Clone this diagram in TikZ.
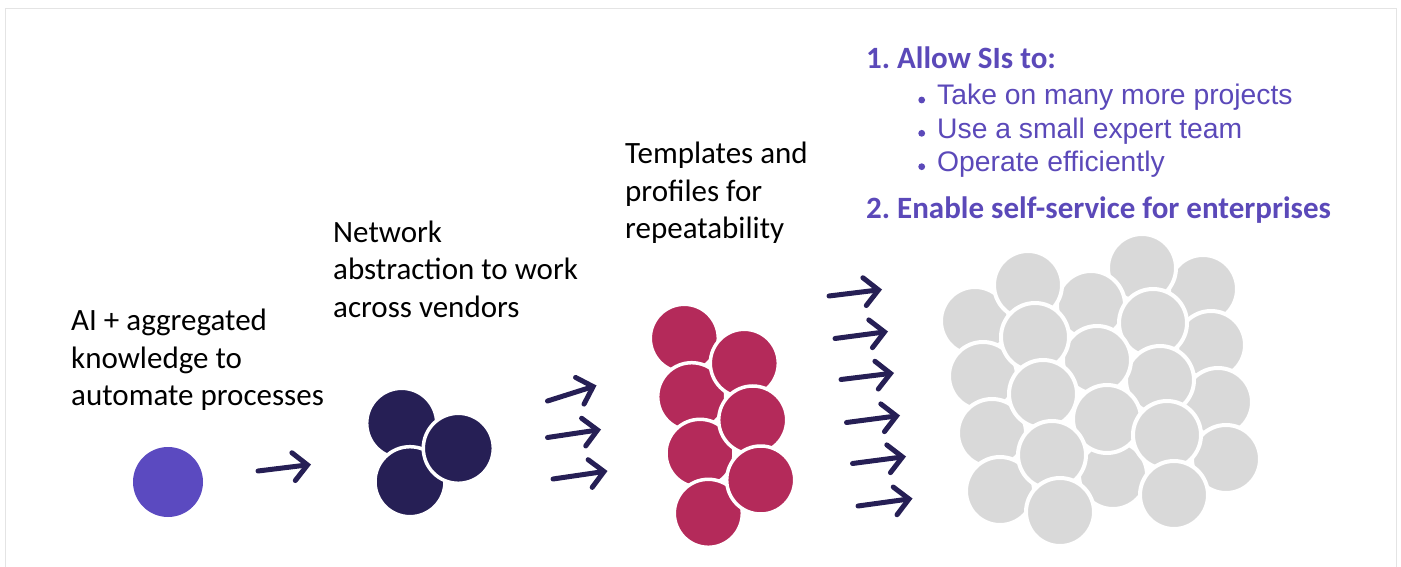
\documentclass[tikz,border=0pt]{standalone}
\usepackage{fontspec}
\setmainfont{Carlito}
\newfontfamily\bulletfont{Liberation Sans}
\usetikzlibrary{arrows.meta}
\frenchspacing

\definecolor{inkpurple}{HTML}{5B49B9}
\definecolor{dotpurple}{HTML}{5B4AC0}
\definecolor{navy}{HTML}{261F55}
\definecolor{berry}{HTML}{B42A5A}
\definecolor{ash}{HTML}{D9D9D9}
\definecolor{framegray}{HTML}{E4E4E4}

\begin{document}
\begin{tikzpicture}[x=1pt,y=-1pt,
  caption/.style={anchor=base west, inner sep=0pt, align=left,
    font=\fontsize{31}{37.3}\selectfont, text=black},
  heading/.style={anchor=base west, inner sep=0pt,
    font=\fontsize{31}{36}\selectfont\bfseries, text=inkpurple},
  bulletline/.style={anchor=base west, inner sep=0pt,
    font=\bulletfont\fontsize{28.3}{33}\selectfont, text=inkpurple},
  ball/.style={circle, inner sep=0pt, draw=white, minimum size=68pt, line width=3.5pt},
  greyball/.style={ball, fill=ash, minimum size=68pt, line width=4pt},
  redball/.style={ball, fill=berry, minimum size=68pt},
  navyball/.style={ball, fill=navy, minimum size=70pt},
  flow/.style={draw=navy, line width=5pt, line cap=round,
    -{Straight Barb[length=14pt,width=28pt,line cap=round,line join=miter]}},
]
\useasboundingbox (0,0) rectangle (1401,567);

% light frame around the slide area
\draw[framegray, line width=1.5pt] (5.5,567) -- (5.5,8.5) -- (1396.5,8.5) -- (1396.5,567);

% captions (anchored at the baseline of their last line)
\node[caption] (cap1) at (71,405.5) {AI + aggregated\\knowledge to\\automate processes};
\node[caption] (cap2) at (333,317) {Network\\abstraction to work\\across vendors};
\node[caption] (cap3) at (625,238.5) {Templates and\\profiles for\\repeatability};

% goals
\node[heading] (goal1) at (866,68.5) {1. Allow SIs to:};
\node[bulletline] (item1) at (937,105) {Take on many more projects};
\node[bulletline] (item2) at (937,138.3) {Use a small expert team};
\node[bulletline] (item3) at (937,171.7) {Operate efficiently};
\node[heading] (goal2) at (866,218.5) {2. Enable self-service for enterprises};
\foreach \yy in {100,133.3,166.7}
  \fill[inkpurple] (921.7,\yy) circle (3.4pt);

% stage 1: a single dot
\node[circle, inner sep=0pt, fill=dotpurple, minimum size=70pt] (one) at (168,482) {};

% stage 2: three dots
\node[navyball] (n1) at (401.7,423.3) {};
\node[navyball] (n3) at (410,481.7) {};
\node[navyball] (n2) at (458.3,448.3) {};

% stage 3: seven dots
\node[redball] (r1) at (684.3,338.3) {};
\node[redball] (r3) at (691.7,396.7) {};
\node[redball] (r5) at (700,453.3) {};
\node[redball] (r7) at (708.3,513.3) {};
\node[redball] (r2) at (744.3,363.3) {};
\node[redball] (r4) at (752.7,420) {};
\node[redball] (r6) at (760.7,480) {};

% stage 4: many dots
\foreach \nm/\px/\py in {E1/1203/289, D1/1142/268, C1/1091/305, A1/975/321,
    B1/1028/285, A2/983/376, E2/1211/345, D2/1153/323, E3/1218/402,
    D3/1160/380, C2/1097/360, B2/1035/337, A3/992/433, B3/1043/394,
    C4/1113/475, C3/1107/419, E4/1226/459, D4/1167/435, D5/1174/495,
    A4/1000/491, B4/1052/455, B5/1060/512}
  \node[greyball] (g\nm) at (\px,\py) {};

% arrows between the stages
\coordinate (s1a) at (258,471);   \coordinate (e1a) at (311,464.5);
\coordinate (s2a) at (547.5,401); \coordinate (e2a) at (596.5,385.5);
\coordinate (s2b) at (547.5,437.5); \coordinate (e2b) at (601,429.5);
\coordinate (s2c) at (553,479);   \coordinate (e2c) at (607.5,471);
\coordinate (s3a) at (829,296);   \coordinate (e3a) at (882,289.5);
\coordinate (s3b) at (835,338.5); \coordinate (e3b) at (888,331.5);
\coordinate (s3c) at (841,379.5); \coordinate (e3c) at (894,373);
\coordinate (s3d) at (846.5,422.5); \coordinate (e3d) at (900,415.5);
\coordinate (s3e) at (852.5,463.5); \coordinate (e3e) at (906,456.5);
\coordinate (s3f) at (858,506);   \coordinate (e3f) at (912.5,498.5);
\foreach \s/\e in {s1a/e1a, s2a/e2a, s2b/e2b, s2c/e2c, s3a/e3a, s3b/e3b,
    s3c/e3c, s3d/e3d, s3e/e3e, s3f/e3f}
  \draw[flow] (\s) -- (\e);
\end{tikzpicture}
\end{document}
